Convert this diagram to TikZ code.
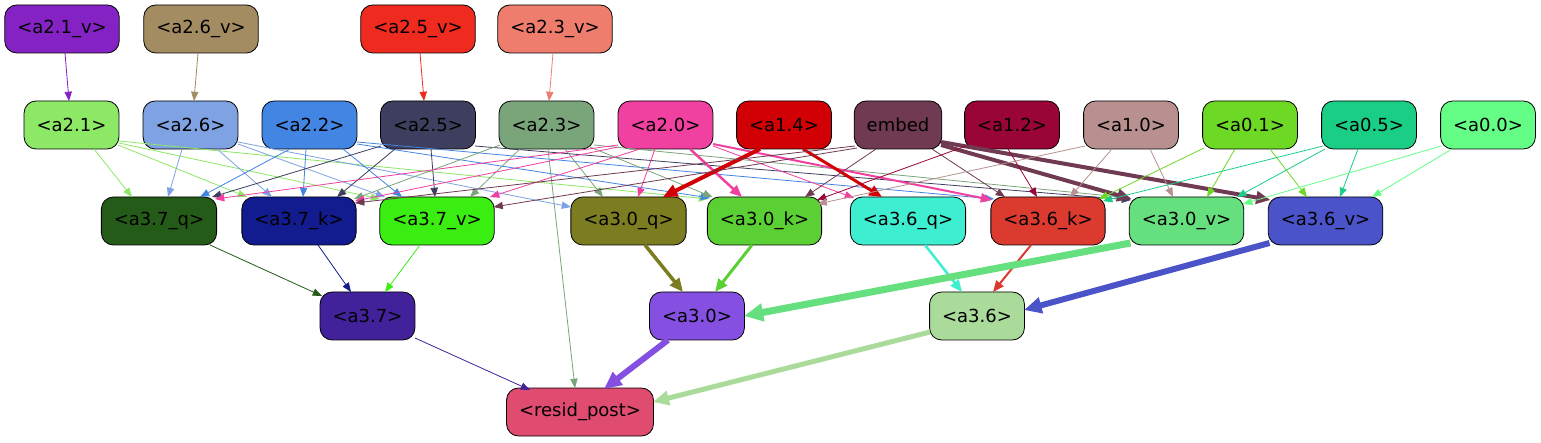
\documentclass[tikz,border=0pt]{standalone}
\usepackage{fontspec}
\setmainfont{DejaVu Sans}
\usetikzlibrary{arrows.meta}
\definecolor{cA21v}{HTML}{8422C4}
\definecolor{cA26v}{HTML}{A38C62}
\definecolor{cA25v}{HTML}{EF2A1E}
\definecolor{cA23v}{HTML}{EE7D6E}
\definecolor{cA21}{HTML}{8DE866}
\definecolor{cA26}{HTML}{7FA2E2}
\definecolor{cA22}{HTML}{4285E3}
\definecolor{cA25}{HTML}{3E3F5E}
\definecolor{cA23}{HTML}{7AA57A}
\definecolor{cA20}{HTML}{F040A0}
\definecolor{cA14}{HTML}{D10004}
\definecolor{cEmb}{HTML}{703A52}
\definecolor{cA12}{HTML}{9A0537}
\definecolor{cA10}{HTML}{B99090}
\definecolor{cA01}{HTML}{6ED925}
\definecolor{cA05}{HTML}{1BCE86}
\definecolor{cA00}{HTML}{64FE86}
\definecolor{cA37q}{HTML}{255B18}
\definecolor{cA37k}{HTML}{121C8F}
\definecolor{cA37v}{HTML}{3AEE12}
\definecolor{cA30q}{HTML}{7C7C20}
\definecolor{cA30k}{HTML}{5BD035}
\definecolor{cA36q}{HTML}{3EEED0}
\definecolor{cA36k}{HTML}{DB3A2F}
\definecolor{cA30v}{HTML}{66E07E}
\definecolor{cA36v}{HTML}{4B53C9}
\definecolor{cA37}{HTML}{42229A}
\definecolor{cA30}{HTML}{8550E1}
\definecolor{cA36}{HTML}{AADB9A}
\definecolor{cRP}{HTML}{E04B70}
\newcommand\myedge[6]{\draw[ed, draw=#1, line width=#2pt] ([shift={(#4)}]#3.center) -- ([shift={(#6)}]#5.center);}
\begin{document}
\begin{tikzpicture}[x=1pt,y=-1pt,
  nd/.style={draw=black, line width=0.8pt, rounded corners=12pt, minimum height=48pt, inner xsep=12.5pt, inner ysep=0pt, font=\fontsize{18}{20}\selectfont, text=black},
  ed/.style={-{Triangle[length=8pt 1.6, width=6pt 1.6]}}]
\useasboundingbox (0,0) rectangle (1541,443);
\fill[white] (0,0) rectangle (1541,443);
% row 1
\node[nd, fill=cA21v] (a21v) at (62,29) {<a2.1\_v>};
\node[nd, fill=cA26v] (a26v) at (201,29) {<a2.6\_v>};
\node[nd, fill=cA25v] (a25v) at (418,29) {<a2.5\_v>};
\node[nd, fill=cA23v] (a23v) at (555,29) {<a2.3\_v>};
% row 2
\node[nd, fill=cA21] (a21) at (71.5,125) {<a2.1>};
\node[nd, fill=cA26] (a26) at (190.5,125) {<a2.6>};
\node[nd, fill=cA22] (a22) at (309.5,125) {<a2.2>};
\node[nd, fill=cA25] (a25) at (428,125) {<a2.5>};
\node[nd, fill=cA23] (a23) at (546.5,125) {<a2.3>};
\node[nd, fill=cA20] (a20) at (665.5,125) {<a2.0>};
\node[nd, fill=cA14] (a14) at (784,125) {<a1.4>};
\node[nd, fill=cEmb] (emb) at (898,125) {embed};
\node[nd, fill=cA12] (a12) at (1012,125) {<a1.2>};
\node[nd, fill=cA10] (a10) at (1131,125) {<a1.0>};
\node[nd, fill=cA01] (a01) at (1250,125) {<a0.1>};
\node[nd, fill=cA05] (a05) at (1369,125) {<a0.5>};
\node[nd, fill=cA00] (a00) at (1488,125) {<a0.0>};
% row 3
\node[nd, fill=cA37q] (a37q) at (159,221) {<a3.7\_q>};
\node[nd, fill=cA37k] (a37k) at (299,221) {<a3.7\_k>};
\node[nd, fill=cA37v] (a37v) at (437,221) {<a3.7\_v>};
\node[nd, fill=cA30q] (a30q) at (628.5,221) {<a3.0\_q>};
\node[nd, fill=cA30k] (a30k) at (764.5,221) {<a3.0\_k>};
\node[nd, fill=cA36q] (a36q) at (908,221) {<a3.6\_q>};
\node[nd, fill=cA36k] (a36k) at (1048,221) {<a3.6\_k>};
\node[nd, fill=cA30v] (a30v) at (1186.5,221) {<a3.0\_v>};
\node[nd, fill=cA36v] (a36v) at (1325.5,221) {<a3.6\_v>};
% row 4
\node[nd, fill=cA37] (a37) at (367.5,316) {<a3.7>};
\node[nd, fill=cA30] (a30) at (697,316) {<a3.0>};
\node[nd, fill=cA36] (a36) at (977,316) {<a3.6>};
% row 5
\node[nd, fill=cRP] (rp) at (580,412) {<resid\_post>};
% row 1 -> row 2
\myedge{cA21v}{0.8}{a21v}{3,24}{a21}{-2.5,-24}
\myedge{cA26v}{0.8}{a26v}{-3,24}{a26}{3.5,-24}
\myedge{cA25v}{0.8}{a25v}{2,24}{a25}{-4,-24}
\myedge{cA23v}{0.8}{a23v}{-2,24}{a23}{2.5,-24}
% a2.1
\myedge{cA21}{0.8}{a21}{22.5,24}{a37q}{-27,-24}
\myedge{cA21}{0.8}{a21}{46.5,20}{a37k}{-52,-24}
\myedge{cA21}{0.8}{a21}{47.5,18}{a37v}{-57,-22}
\myedge{cA21}{0.8}{a21}{47.5,16}{a30k}{-56.5,-22}
% a2.6
\myedge{cA26}{0.8}{a26}{-8.5,24}{a37q}{9,-24}
\myedge{cA26}{0.8}{a26}{26.5,24}{a37k}{-27,-24}
\myedge{cA26}{0.8}{a26}{47.5,19}{a37v}{-52,-24}
\myedge{cA26}{0.8}{a26}{47.5,17}{a30q}{-57.5,-14}
% a2.2
\myedge{cA22}{0.8}{a22}{-19.5,24}{a37q}{41,-24}
\myedge{cA22}{0.8}{a22}{-3.5,24}{a37k}{4,-24}
\myedge{cA22}{0.8}{a22}{33.5,24}{a37v}{-35,-24}
\myedge{cA22}{0.8}{a22}{47.5,19}{a30k}{-54.5,-23}
\myedge{cA22}{0.8}{a22}{47.5,17}{a36k}{-54,-22}
% a2.5
\myedge{cA25}{0.8}{a25}{-47,21}{a37q}{53,-24}
\myedge{cA25}{0.8}{a25}{-33,24}{a37k}{38,-24}
\myedge{cA25}{0.8}{a25}{3,24}{a37v}{-2,-24}
\myedge{cA25}{0.8}{a25}{47,21}{a30v}{-55.5,-21}
% a2.3
\myedge{cA23}{0.8}{a23}{-46.5,20}{a37k}{55,-22}
\myedge{cA23}{0.8}{a23}{-26.5,24}{a37v}{33,-24}
\myedge{cA23}{0.8}{a23}{18.5,24}{a30q}{-25.5,-24}
\myedge{cA23}{0.8}{a23}{43.5,22}{a30k}{-52,-24}
\myedge{cA23}{0.8}{a23}{47.5,20}{a30v}{-56,-23}
\myedge{cA23}{0.8}{a23}{1.5,24}{rp}{-5,-24}
% a2.0
\myedge{cA20}{0.8}{a20}{-47.5,20}{a37q}{56,-22}
\myedge{cA20}{0.8}{a20}{-47.5,22}{a37k}{56,-20}
\myedge{cA20}{0.8}{a20}{-25.5,24}{a37v}{53,-24}
\myedge{cA20}{0.8}{a20}{-10.5,24}{a30q}{9.5,-24}
\myedge{cA20}{2.5}{a20}{24.5,24}{a30k}{-22.5,-24}
\myedge{cA20}{0.8}{a20}{47.5,21}{a36q}{-54,-23}
\myedge{cA20}{2}{a20}{47.5,19}{a36k}{-56,-21}
% a1.4
\myedge{cA14}{4}{a14}{-24,24}{a30q}{34.5,-24}
\myedge{cA14}{3}{a14}{19,24}{a36q}{-26,-24}
% embed
\myedge{cEmb}{0.8}{emb}{-43,21}{a37k}{56,-18}
\myedge{cEmb}{0.8}{emb}{-41,23}{a37v}{56.5,-14}
\myedge{cEmb}{0.8}{emb}{-22,24}{a30k}{40.5,-24}
\myedge{cEmb}{0.8}{emb}{34,24}{a36k}{-43,-24}
\myedge{cEmb}{4}{emb}{43,20}{a30v}{-55,-22}
\myedge{cEmb}{4}{emb}{43,17}{a36v}{-55,-21}
% a1.2
\myedge{cA12}{0.8}{a12}{-46,21}{a30k}{52.5,-21}
\myedge{cA12}{0.8}{a12}{-4,24}{a36k}{-11,-24}
% a1.0
\myedge{cA10}{0.8}{a10}{-46,21}{a30k}{53,-17}
\myedge{cA10}{0.8}{a10}{-19,24}{a36k}{22,-24}
\myedge{cA10}{0.8}{a10}{19,24}{a30v}{-13.5,-24}
% a0.1
\myedge{cA01}{0.8}{a01}{-46,23}{a36k}{51,-22}
\myedge{cA01}{0.8}{a01}{-15,24}{a30v}{20.5,-24}
\myedge{cA01}{0.8}{a01}{20,24}{a36v}{-18.5,-24}
% a0.5
\myedge{cA05}{0.8}{a05}{-46,21}{a36k}{55,-20}
\myedge{cA05}{0.8}{a05}{-44,24}{a30v}{50.5,-24}
\myedge{cA05}{0.8}{a05}{-11,24}{a36v}{14.5,-24}
% a0.0
\myedge{cA00}{0.8}{a00}{-47,21}{a30v}{56.5,-17}
\myedge{cA00}{0.8}{a00}{-36,24}{a36v}{46.5,-24}
% row 3 -> row 4
\myedge{cA37q}{0.8}{a37q}{51,24}{a37}{-45.5,-20}
\myedge{cA37k}{0.8}{a37k}{19,24}{a37}{-16.5,-24}
\myedge{cA37v}{0.8}{a37v}{-17,24}{a37}{17.5,-24}
\myedge{cA30q}{3.5}{a30q}{16.5,24}{a30}{-14,-24}
\myedge{cA30k}{3}{a30k}{-12.5,24}{a30}{18,-24}
\myedge{cA36q}{2.5}{a36q}{17,24}{a36}{-15,-24}
\myedge{cA36k}{2}{a36k}{-17,24}{a36}{16,-24}
\myedge{cA30v}{7}{a30v}{-56,22}{a30}{47,0}
\myedge{cA36v}{6}{a36v}{-56,22}{a36}{47,-6}
% row 4 -> resid_post
\myedge{cA37}{0.8}{a37}{47.5,22}{rp}{-50,-22}
\myedge{cA30}{6}{a30}{-29,24}{rp}{24,-23}
\myedge{cA36}{5}{a36}{-47,16}{rp}{73,-10}
\end{tikzpicture}
\end{document}
